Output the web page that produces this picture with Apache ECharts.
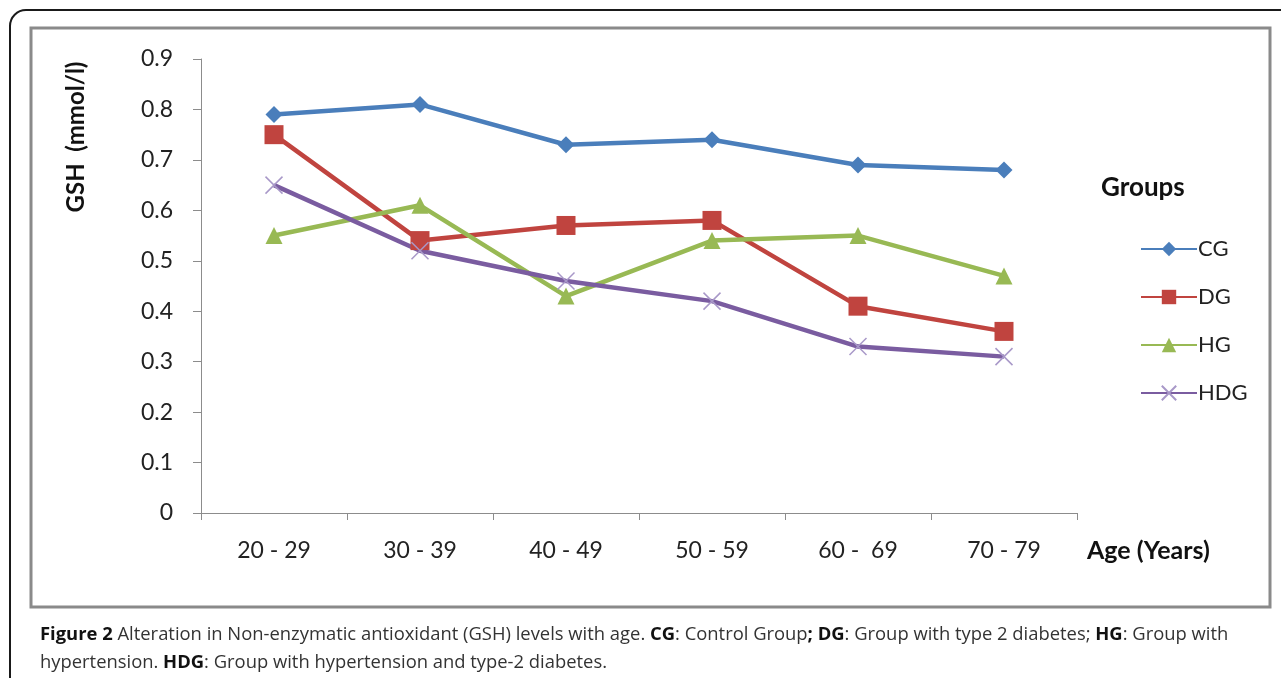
<!DOCTYPE html>
<html>
<head>
<meta charset="utf-8">
<script src="https://cdn.jsdelivr.net/npm/echarts@6/dist/echarts.min.js"></script>
<style>
  html, body { margin: 0; padding: 0; background: #ffffff; }
  #chart { width: 1281px; height: 678px; }
</style>
</head>
<body>
<div id="chart"></div>
<script>
// Age bands on the x axis
const ageGroups = ['20 - 29', '30 - 39', '40 - 49', '50 - 59', '60 -  69', '70 - 79'];
// GSH (mmol/l) per group
const cgValues  = [0.79, 0.81, 0.73, 0.74, 0.69, 0.68];
const dgValues  = [0.75, 0.54, 0.57, 0.58, 0.41, 0.36];
const hgValues  = [0.55, 0.61, 0.43, 0.54, 0.55, 0.47];
const hdgValues = [0.65, 0.52, 0.46, 0.42, 0.33, 0.31];
const seriesNames = ['CG', 'DG', 'HG', 'HDG'];
const seriesColors = ['#4A7EBB', '#C0443F', '#98B954', '#7A5CA0'];

const axisFont = 'Lato, "Open Sans", sans-serif';
const captionFont = '"Open Sans", "Noto Sans", sans-serif';

const chart = echarts.init(document.getElementById('chart'), null, { renderer: 'canvas' });

function lineSeries(name, data, color, symbol, size, extra) {
  return Object.assign({
    name: name,
    type: 'line',
    data: data,
    symbol: symbol,
    symbolSize: size,
    showAllSymbol: true,
    lineStyle: { color: color, width: 4.5 },
    itemStyle: { color: color },
    emphasis: { disabled: true },
    z: 3
  }, extra || {});
}

const option = {
  animation: false,
  backgroundColor: '#ffffff',
  grid: { left: 201, right: 204, top: 59, bottom: 165, containLabel: false },
  xAxis: {
    type: 'category',
    data: ageGroups,
    boundaryGap: true,
    axisLine: { lineStyle: { color: '#8c8c8c', width: 1 } },
    axisTick: { show: true, alignWithLabel: false, length: 7, lineStyle: { color: '#8c8c8c' } },
    axisLabel: { color: '#222', fontFamily: axisFont, fontSize: 23, margin: 26 },
    splitLine: { show: false }
  },
  yAxis: {
    type: 'value',
    min: 0,
    max: 0.9,
    interval: 0.1,
    axisLine: { show: true, lineStyle: { color: '#8c8c8c', width: 1 } },
    axisTick: { show: true, length: 8, lineStyle: { color: '#8c8c8c' } },
    axisLabel: {
      color: '#222', fontFamily: axisFont, fontSize: 23, margin: 28,
      formatter: v => (Math.round(v * 10) / 10).toString()
    },
    splitLine: { show: false }
  },
  legend: {
    orient: 'vertical',
    left: 1135,
    top: 233,
    itemWidth: 56,
    itemHeight: 18,
    itemGap: 26,
    data: seriesNames,
    textStyle: { color: '#222', fontFamily: axisFont, fontSize: 22, padding: [0, 0, 0, -4] },
    selectedMode: false
  },
  series: [
    lineSeries('CG', cgValues, seriesColors[0], 'diamond', 17),
    lineSeries('DG', dgValues, seriesColors[1], 'rect', 19),
    lineSeries('HG', hgValues, seriesColors[2], 'triangle', 17),
    lineSeries('HDG', hdgValues, seriesColors[3], 'path://M0,0L10,10M10,0L0,10', 17, {
      itemStyle: { color: 'none', borderColor: '#A898C8', borderWidth: 1.5 }
    })
  ],
  graphic: [
    // outer figure frame with rounded top-left corner
    {
      type: 'rect', silent: true, z: -10,
      shape: { x: 10, y: 10, width: 1300, height: 700, r: [16, 0, 0, 0] },
      style: { fill: 'none', stroke: '#1a1a1a', lineWidth: 2 }
    },
    // chart area frame
    {
      type: 'rect', silent: true, z: -9,
      shape: { x: 31, y: 28, width: 1239, height: 579 },
      style: { fill: 'none', stroke: '#8a8a8a', lineWidth: 3 }
    },
    // y-axis title
    {
      type: 'text', silent: true,
      x: 76, y: 137, rotation: Math.PI / 2,
      style: {
        text: 'GSH  (mmol/l)', fill: '#111',
        font: 'bold 24px ' + axisFont,
        align: 'center', verticalAlign: 'middle'
      }
    },
    // x-axis title
    {
      type: 'text', silent: true,
      x: 1087, y: 551,
      style: {
        text: 'Age (Years)', fill: '#111',
        font: 'bold 25px ' + axisFont,
        align: 'left', verticalAlign: 'middle'
      }
    },
    // legend heading
    {
      type: 'text', silent: true,
      x: 1101, y: 188,
      style: {
        text: 'Groups', fill: '#111',
        font: 'bold 26px ' + axisFont,
        align: 'left', verticalAlign: 'middle'
      }
    },
    // figure caption
    {
      type: 'text', silent: true,
      x: 40, y: 635,
      style: {
        text: '{b|Figure 2} Alteration in Non-enzymatic antioxidant (GSH) levels with age. {b|CG}: Control Group{b|;} {b|DG}: Group with type 2 diabetes; {b|HG}: Group with',
        fill: '#333', font: '18.4px ' + captionFont,
        verticalAlign: 'middle',
        rich: { b: { fontWeight: 'bold', fontFamily: captionFont, fontSize: 18.4, fill: '#111' } }
      }
    },
    {
      type: 'text', silent: true,
      x: 40, y: 663,
      style: {
        text: 'hypertension. {b|HDG}: Group with hypertension and type-2 diabetes.',
        fill: '#333', font: '18.4px ' + captionFont,
        verticalAlign: 'middle',
        rich: { b: { fontWeight: 'bold', fontFamily: captionFont, fontSize: 18.4, fill: '#111' } }
      }
    }
  ]
};

chart.setOption(option);
</script>
</body>
</html>
